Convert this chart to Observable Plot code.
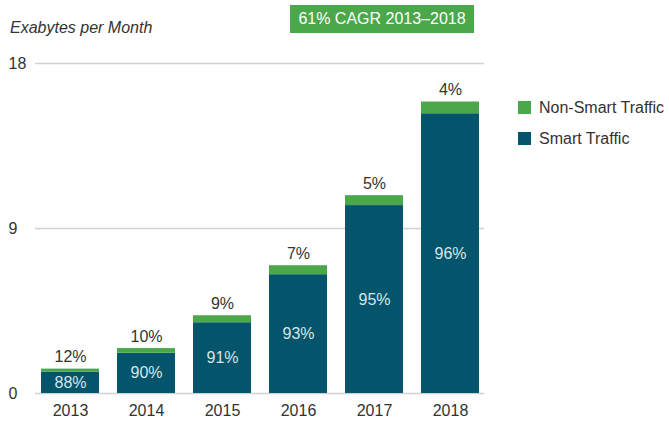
<!DOCTYPE html>
<html>
<head>
<meta charset="utf-8">
<script src="https://cdn.jsdelivr.net/npm/d3@7"></script>
<script src="https://cdn.jsdelivr.net/npm/@observablehq/plot@0.6"></script>
<style>
  html, body { margin: 0; padding: 0; background: #fff; width: 669px; height: 423px; overflow: hidden; }
  body { position: relative; font-family: "Liberation Sans", "DejaVu Sans", sans-serif; color: #333; }
  #chart { position: absolute; left: 0; top: 0; }
  #title { position: absolute; left: 10px; top: 19px; font-size: 16px; font-style: italic; color: #333; white-space: nowrap; }
  #cagr { position: absolute; left: 290px; top: 5px; width: 184px; height: 28px; background: #4aa84a; color: #fff;
          font-size: 16px; line-height: 28px; text-align: center; white-space: nowrap; }
  #legend { position: absolute; left: 518px; top: 92px; font-size: 16px; color: #333; white-space: nowrap; }
  #legend .row { display: flex; align-items: center; height: 31px; }
  #legend .sw { width: 13px; height: 13px; margin-right: 8px; flex: none; }
</style>
</head>
<body>
<div id="chart"></div>
<div id="title"></div>
<div id="cagr"></div>
<div id="legend"></div>
<script>
// ---- data ----
const years = ["2013", "2014", "2015", "2016", "2017", "2018"];
const smartTraffic = [1.17, 2.20, 3.86, 6.48, 10.25, 15.26];      // Exabytes per month
const nonSmartTraffic = [0.16, 0.25, 0.38, 0.49, 0.54, 0.64];
const smartLabels = ["88%", "90%", "91%", "93%", "95%", "96%"];
const nonSmartLabels = ["12%", "10%", "9%", "7%", "5%", "4%"];
const yTicks = [0, 9, 18];
const seriesNames = ["Non-Smart Traffic", "Smart Traffic"];
const seriesColors = ["#4aa84a", "#04546b"];
const titleText = "Exabytes per Month";
const cagrText = "61% CAGR 2013\u20132018";

// ---- build table ----
const rows = [];
years.forEach((yr, i) => {
  rows.push({year: yr, series: "Smart Traffic", value: smartTraffic[i], order: 0});
  rows.push({year: yr, series: "Non-Smart Traffic", value: nonSmartTraffic[i], order: 1});
});
const totals = years.map((yr, i) => ({year: yr, total: smartTraffic[i] + nonSmartTraffic[i], label: nonSmartLabels[i]}));
const inner = years.map((yr, i) => ({year: yr, mid: smartTraffic[i] / 2, label: smartLabels[i]}));

const chart = Plot.plot({
  width: 669,
  height: 423,
  marginTop: 63,
  marginBottom: 30,
  marginLeft: 35,
  marginRight: 185,
  style: {fontFamily: "Liberation Sans, DejaVu Sans, sans-serif", fontSize: "16px", color: "#333", background: "transparent"},
  x: {domain: years, paddingInner: 0.24, paddingOuter: 0.05, label: null},
  y: {domain: [0, 18], label: null},
  color: {domain: seriesNames, range: seriesColors},
  marks: [
    Plot.gridY(yTicks, {stroke: "#d0d0d0", strokeOpacity: 1, strokeWidth: 1.5}),
    Plot.axisY(yTicks, {tickSize: 0, tickPadding: 0, textAnchor: "start", dx: -27, fontSize: 16, fill: "#333", label: null}),
    Plot.axisX({tickSize: 0, tickPadding: 11, fontSize: 16, fill: "#333", label: null}),
    Plot.barY(rows, {x: "year", y: "value", fill: "series", order: "order"}),
    Plot.text(totals, {x: "year", y: "total", text: "label", dy: -12, fontSize: 16, fill: "#333"}),
    Plot.text(inner, {x: "year", y: "mid", text: "label", fontSize: 16, fill: "#d6e6ea"})
  ]
});
document.getElementById("chart").appendChild(chart);

document.getElementById("title").textContent = titleText;
document.getElementById("cagr").textContent = cagrText;

const legend = document.getElementById("legend");
seriesNames.forEach((name, i) => {
  const row = document.createElement("div");
  row.className = "row";
  const sw = document.createElement("span");
  sw.className = "sw";
  sw.style.background = seriesColors[i];
  const lab = document.createElement("span");
  lab.textContent = name;
  row.appendChild(sw);
  row.appendChild(lab);
  legend.appendChild(row);
});
</script>
</body>
</html>
